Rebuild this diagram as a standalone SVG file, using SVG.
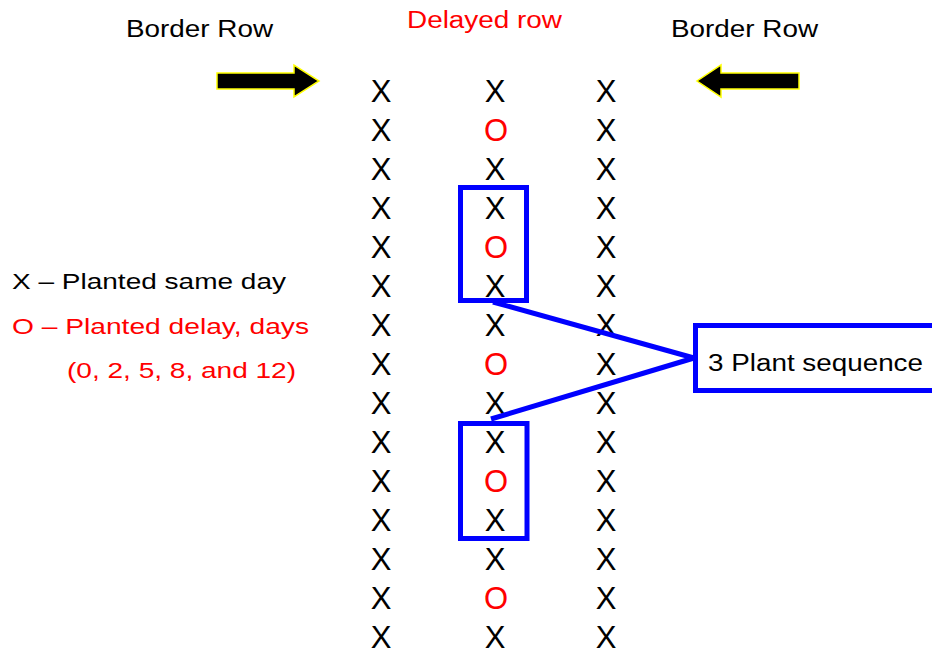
<svg xmlns="http://www.w3.org/2000/svg" width="932" height="652" viewBox="0 0 932 652">
<style>
text{font-family:"Liberation Sans",Arial,sans-serif}
.x{font-size:31px;fill:#000;text-anchor:middle}
.o{font-size:31px;fill:#ff0000;text-anchor:middle}
.hd{font-size:23px}
.lg{font-size:22px}
.blk{fill:#000}
.red{fill:#ff0000}
.box{fill:none;stroke:#0000ff;stroke-width:5}
.arr{fill:#000;stroke:#ffff00;stroke-width:1.5;stroke-linejoin:miter}
</style>
<rect width="932" height="652" fill="#fff"/>
<g id="headers">
<text class="hd blk" x="126" y="37" textLength="147" lengthAdjust="spacingAndGlyphs">Border Row</text>
<text class="hd red" x="407" y="28" textLength="155" lengthAdjust="spacingAndGlyphs">Delayed row</text>
<text class="hd blk" x="671" y="37" textLength="147" lengthAdjust="spacingAndGlyphs">Border Row</text>
</g>
<g id="arrow-left-border">
<polygon class="arr" points="217,73 294,73 294,65 319,81 294,97 294,89 217,89"/>
</g>
<g id="arrow-right-border">
<polygon class="arr" points="799,73 721,73 721,65 697,81 721,97 721,89 799,89"/>
</g>
<g id="legend">
<text class="lg blk" x="12" y="289" textLength="274" lengthAdjust="spacingAndGlyphs">X – Planted same day</text>
<text class="lg red" x="12" y="334" textLength="297" lengthAdjust="spacingAndGlyphs">O – Planted delay, days</text>
<text class="lg red" x="67" y="378" textLength="229" lengthAdjust="spacingAndGlyphs">(0, 2, 5, 8, and 12)</text>
</g>
<g id="col-left">
<text class="x" x="381" y="102">X</text><text class="x" x="381" y="141">X</text><text class="x" x="381" y="180">X</text><text class="x" x="381" y="219">X</text><text class="x" x="381" y="258">X</text><text class="x" x="381" y="297">X</text><text class="x" x="381" y="336">X</text><text class="x" x="381" y="375">X</text><text class="x" x="381" y="414">X</text><text class="x" x="381" y="453">X</text><text class="x" x="381" y="492">X</text><text class="x" x="381" y="531">X</text><text class="x" x="381" y="570">X</text><text class="x" x="381" y="609">X</text><text class="x" x="381" y="648">X</text>
</g>
<g id="col-delayed">
<text class="x" x="495" y="102">X</text><text class="o" x="496" y="141">O</text><text class="x" x="495" y="180">X</text><text class="x" x="495" y="219">X</text><text class="o" x="496" y="258">O</text><text class="x" x="495" y="297">X</text><text class="x" x="495" y="336">X</text><text class="o" x="496" y="375">O</text><text class="x" x="495" y="414">X</text><text class="x" x="495" y="453">X</text><text class="o" x="496" y="492">O</text><text class="x" x="495" y="531">X</text><text class="x" x="495" y="570">X</text><text class="o" x="496" y="609">O</text><text class="x" x="495" y="648">X</text>
</g>
<g id="col-right">
<text class="x" x="606" y="102">X</text><text class="x" x="606" y="141">X</text><text class="x" x="606" y="180">X</text><text class="x" x="606" y="219">X</text><text class="x" x="606" y="258">X</text><text class="x" x="606" y="297">X</text><text class="x" x="606" y="336">X</text><text class="x" x="606" y="375">X</text><text class="x" x="606" y="414">X</text><text class="x" x="606" y="453">X</text><text class="x" x="606" y="492">X</text><text class="x" x="606" y="531">X</text><text class="x" x="606" y="570">X</text><text class="x" x="606" y="609">X</text><text class="x" x="606" y="648">X</text>
</g>
<g id="box-upper"><rect class="box" x="460.5" y="187.5" width="66" height="113"/></g>
<g id="box-lower"><rect class="box" x="460.5" y="423.5" width="66.5" height="115"/></g>
<g id="connectors">
<line class="box" x1="493" y1="302" x2="694" y2="358"/>
<line class="box" x1="491" y1="419" x2="694" y2="358"/>
</g>
<g id="sequence-box">
<rect class="box" x="695.5" y="325.5" width="250" height="65"/>
<text class="hd blk" x="708" y="371" textLength="215" lengthAdjust="spacingAndGlyphs">3 Plant sequence</text>
</g>
</svg>
